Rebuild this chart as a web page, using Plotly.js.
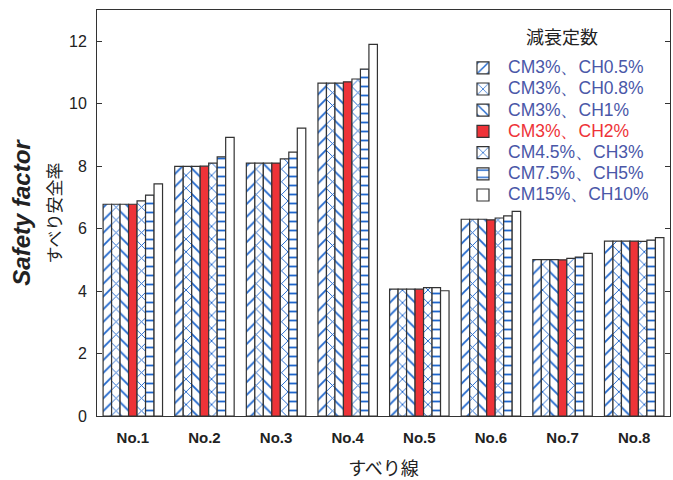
<!DOCTYPE html>
<html><head><meta charset="utf-8">
<script src="https://cdn.plot.ly/plotly-3.0.1.min.js"></script>
<style>html,body{margin:0;padding:0;background:#fff}#chart{width:673px;height:480px}</style>
</head><body><div id="chart"></div>
<script>
const categories = ["No.1","No.2","No.3","No.4","No.5","No.6","No.7","No.8"];
const seriesNames = ["CM3%、CH0.5%","CM3%、CH0.8%","CM3%、CH1%","CM3%、CH2%","CM4.5%、CH3%","CM7.5%、CH5%","CM15%、CH10%"];
const legendTitle = "減衰定数";
const s1 = [6.78, 7.99, 8.10, 10.66, 4.06, 6.30, 5.01, 5.60];
const s2 = [6.78, 7.99, 8.10, 10.66, 4.06, 6.30, 5.01, 5.60];
const s3 = [6.78, 7.99, 8.10, 10.66, 4.06, 6.30, 5.01, 5.60];
const s4 = [6.78, 8.00, 8.10, 10.70, 4.06, 6.28, 5.00, 5.60];
const s5 = [6.89, 8.10, 8.23, 10.79, 4.11, 6.34, 5.05, 5.59];
const s6 = [7.07, 8.30, 8.45, 11.11, 4.11, 6.41, 5.09, 5.63];
const s7 = [7.43, 8.92, 9.22, 11.90, 4.01, 6.55, 5.21, 5.71];
const yTicks = [0,2,4,6,8,10,12];

const values = [s1,s2,s3,s4,s5,s6,s7];
const blue = "#1f66cc";
const styles = [
  {shape:"/", bg:"#fff", fg:blue, text:"#4a57a8"},
  {shape:"x", bg:"#fff", fg:blue, text:"#4a57a8"},
  {shape:"\\", bg:"#fff", fg:blue, text:"#4a57a8"},
  {shape:"", bg:"#ee3338", fg:null, text:"#ee3338"},
  {shape:"x", bg:"#fff", fg:blue, text:"#4a57a8"},
  {shape:"-", bg:"#fff", fg:blue, text:"#4a57a8"},
  {shape:"", bg:"#fff", fg:null, text:"#4a57a8"}
];
const traces = values.map((v,i)=>{
  const st = styles[i];
  const marker = {color: st.bg, line:{color:"#333", width:1.2}};
  if (st.shape) marker.pattern = {shape: st.shape, fgcolor: st.fg, bgcolor: st.bg, size: 9, solidity: 0.2, fillmode:"replace"};
  return {type:"bar", x:categories, y:v, name:'<span style="color:'+st.text+';font-size:17.5px">'+seriesNames[i]+'</span>', marker};
});

const layout = {
  width:673, height:480,
  margin:{l:97, r:3, t:10, b:64},
  paper_bgcolor:"#fff", plot_bgcolor:"#fff",
  barmode:"group", bargap:0.17, bargroupgap:0,
  font:{family:"Liberation Sans, Arial, sans-serif", color:"#222"},
  xaxis:{
    showline:true, linecolor:"#333", linewidth:1, mirror:true, ticks:"",
    ticklabelstandoff:8,
    tickfont:{size:15, family:"Liberation Sans, Arial, sans-serif", color:"#222", weight:"bold"},
    title:{text:"すべり線", font:{size:18, family:"Noto Sans CJK JP", color:"#222"}, standoff:18}
  },
  yaxis:{
    range:[0,13], tickvals:yTicks, ticktext:yTicks.map(String),
    showline:true, linecolor:"#333", linewidth:1, mirror:"ticks",
    ticks:"inside", ticklen:5, tickcolor:"#333", showgrid:false, zeroline:false,
    ticklabelstandoff:6,
    tickfont:{size:16, color:"#222"},
    title:{text:'<b><i>Safety factor</i></b><br><span style="font-size:17px;font-family:Noto Sans CJK JP">すべり安全率</span>', font:{size:24, color:"#222"}, standoff:0}
  },
  legend:{
    x:0.63, y:0.896, xanchor:"left", yanchor:"top",
    bgcolor:"rgba(0,0,0,0)", borderwidth:0,
    font:{size:14, family:"Liberation Sans, Arial, sans-serif"},
    tracegroupgap:0, itemwidth:40
  },
  annotations:[{
    text:legendTitle, xref:"paper", yref:"paper", x:0.8115, y:0.936,
    xanchor:"center", yanchor:"middle", showarrow:false,
    font:{size:18, family:"Noto Sans CJK JP", color:"#222"}
  }],
  showlegend:true
};
Plotly.newPlot("chart", traces, layout, {displayModeBar:false, staticPlot:true});
</script></body></html>
